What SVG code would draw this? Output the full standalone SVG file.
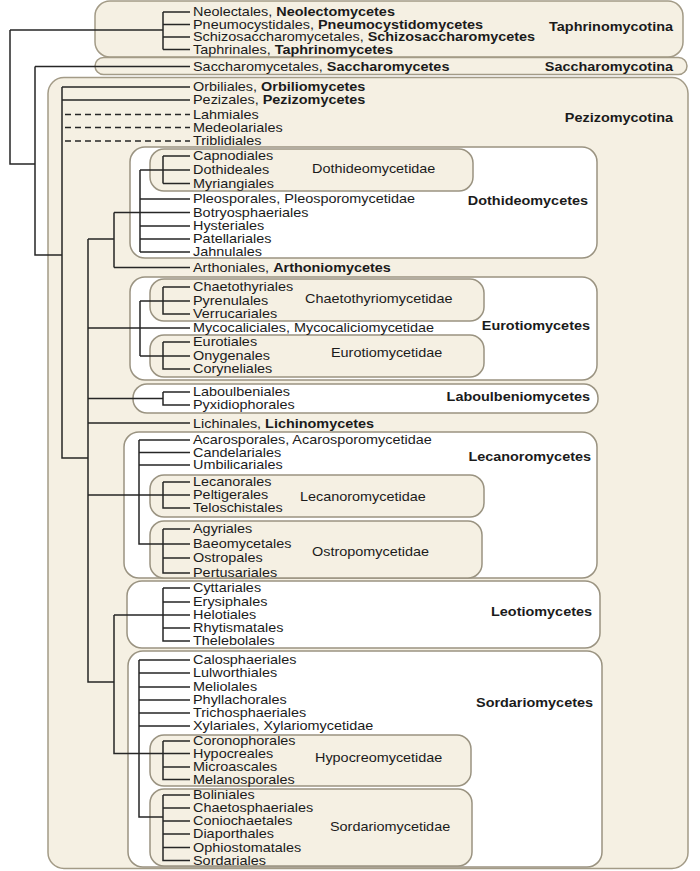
<svg xmlns="http://www.w3.org/2000/svg" width="700" height="871" viewBox="0 0 700 871">
<style>
text{font-family:"Liberation Sans",Arial,sans-serif;font-size:13px;fill:#1b1b1b}
.b{font-weight:bold}
.rl{text-anchor:end;font-weight:bold}
.bg{fill:#f5f0e3;stroke:#a39b87;stroke-width:1.5}
.cl{fill:#ffffff;stroke:#9a9381;stroke-width:1.5}
.sc{fill:#f5f0e3;stroke:#9a9381;stroke-width:1.5}
#connectors path{fill:none;stroke:#262626;stroke-width:1.5}
#connectors path.dash{stroke-dasharray:6 4}
</style>
<rect width="700" height="871" fill="#ffffff"/>

<g id="taphrinomycotina">
<rect class="bg" x="95" y="1" width="588" height="56" rx="15"/>
<text class="rl" x="673" y="31.5" transform="matrix(1.11 0 0 1 -74.03 0)">Taphrinomycotina</text>
<g transform="matrix(1.11 0 0 1 -21.23 0)">
<text x="193" y="16.5">Neolectales, <tspan class="b">Neolectomycetes</tspan></text>
<text x="193" y="29">Pneumocystidales, <tspan class="b">Pneumocystidomycetes</tspan></text>
<text x="193" y="41.5">Schizosaccharomycetales, <tspan class="b">Schizosaccharomycetes</tspan></text>
<text x="193" y="54">Taphrinales, <tspan class="b">Taphrinomycetes</tspan></text>
</g>
</g>

<g id="saccharomycotina">
<rect class="bg" x="95" y="57.5" width="592" height="17" rx="8.5"/>
<text class="rl" x="673" y="71" transform="matrix(1.11 0 0 1 -74.03 0)">Saccharomycotina</text>
<g transform="matrix(1.11 0 0 1 -21.23 0)">
<text x="193" y="71">Saccharomycetales, <tspan class="b">Saccharomycetes</tspan></text>
</g>
</g>

<g id="pezizomycotina">
<rect class="bg" x="48" y="77.5" width="640" height="791" rx="16"/>
<text class="rl" x="673" y="122.5" transform="matrix(1.11 0 0 1 -74.03 0)">Pezizomycotina</text>
<g transform="matrix(1.11 0 0 1 -21.23 0)">
<text x="193" y="91.5">Orbiliales, <tspan class="b">Orbiliomycetes</tspan></text>
<text x="193" y="104.5">Pezizales, <tspan class="b">Pezizomycetes</tspan></text>
<text x="193" y="119">Lahmiales</text>
<text x="193" y="132">Medeolariales</text>
<text x="193" y="145.5">Triblidiales</text>
</g>
</g>

<g id="dothideomycetes">
<rect class="cl" x="130" y="147" width="467" height="111" rx="15"/>
<text class="rl" x="588" y="205.5" transform="matrix(1.11 0 0 1 -64.68 0)">Dothideomycetes</text>
<g id="dothideomycetidae">
<rect class="sc" x="150" y="149" width="323" height="42" rx="14"/>
<text x="312" y="173.5" transform="matrix(1.11 0 0 1 -34.32 0)">Dothideomycetidae</text>
</g>
<g transform="matrix(1.11 0 0 1 -21.23 0)">
<text x="193" y="160.5">Capnodiales</text>
<text x="193" y="174.5">Dothideales</text>
<text x="193" y="188">Myriangiales</text>
<text x="193" y="203.5">Pleosporales, Pleosporomycetidae</text>
<text x="193" y="217">Botryosphaeriales</text>
<text x="193" y="230.5">Hysteriales</text>
<text x="193" y="243.5">Patellariales</text>
<text x="193" y="256.5">Jahnulales</text>
</g>
</g>

<g id="arthoniomycetes">
<text x="193" y="272" transform="matrix(1.11 0 0 1 -21.23 0)">Arthoniales, <tspan class="b">Arthoniomycetes</tspan></text>
</g>

<g id="eurotiomycetes">
<rect class="cl" x="130" y="277" width="467" height="103" rx="15"/>
<text class="rl" x="590" y="330.5" transform="matrix(1.11 0 0 1 -64.9 0)">Eurotiomycetes</text>
<g id="chaetothyriomycetidae">
<rect class="sc" x="150" y="279" width="334" height="42" rx="14"/>
<text x="305" y="303.5" transform="matrix(1.11 0 0 1 -33.55 0)">Chaetothyriomycetidae</text>
</g>
<g id="eurotiomycetidae">
<rect class="sc" x="150" y="335" width="334" height="42" rx="14"/>
<text x="331" y="357.5" transform="matrix(1.11 0 0 1 -36.41 0)">Eurotiomycetidae</text>
</g>
<g transform="matrix(1.11 0 0 1 -21.23 0)">
<text x="193" y="291.5">Chaetothyriales</text>
<text x="193" y="305.5">Pyrenulales</text>
<text x="193" y="318.5">Verrucariales</text>
<text x="193" y="332.5">Mycocaliciales, Mycocaliciomycetidae</text>
<text x="193" y="346.5">Eurotiales</text>
<text x="193" y="360.5">Onygenales</text>
<text x="193" y="373.5">Coryneliales</text>
</g>
</g>

<g id="laboulbeniomycetes">
<rect class="cl" x="133" y="384" width="465" height="29" rx="14"/>
<text class="rl" x="590" y="401.5" transform="matrix(1.11 0 0 1 -64.9 0)">Laboulbeniomycetes</text>
<g transform="matrix(1.11 0 0 1 -21.23 0)">
<text x="193" y="396.5">Laboulbeniales</text>
<text x="193" y="409.5">Pyxidiophorales</text>
</g>
</g>

<g id="lichinomycetes">
<text x="193" y="427.5" transform="matrix(1.11 0 0 1 -21.23 0)">Lichinales, <tspan class="b">Lichinomycetes</tspan></text>
</g>

<g id="lecanoromycetes">
<rect class="cl" x="124" y="432" width="473" height="146" rx="15"/>
<text class="rl" x="591" y="461.5" transform="matrix(1.11 0 0 1 -65.01 0)">Lecanoromycetes</text>
<g id="lecanoromycetidae">
<rect class="sc" x="150" y="475" width="334" height="42" rx="14"/>
<text x="300" y="501.5" transform="matrix(1.11 0 0 1 -33 0)">Lecanoromycetidae</text>
</g>
<g id="ostropomycetidae">
<rect class="sc" x="150" y="521" width="332" height="57" rx="14"/>
<text x="312" y="556.5" transform="matrix(1.11 0 0 1 -34.32 0)">Ostropomycetidae</text>
</g>
<g transform="matrix(1.11 0 0 1 -21.23 0)">
<text x="193" y="444.5">Acarosporales, Acarosporomycetidae</text>
<text x="193" y="457">Candelariales</text>
<text x="193" y="469.5">Umbilicariales</text>
<text x="193" y="486.5">Lecanorales</text>
<text x="193" y="499.5">Peltigerales</text>
<text x="193" y="512.5">Teloschistales</text>
<text x="193" y="533.5">Agyriales</text>
<text x="193" y="548.5">Baeomycetales</text>
<text x="193" y="562.5">Ostropales</text>
<text x="193" y="577">Pertusariales</text>
</g>
</g>

<g id="leotiomycetes">
<rect class="cl" x="127" y="581" width="473" height="67" rx="15"/>
<text class="rl" x="592" y="616.5" transform="matrix(1.11 0 0 1 -65.12 0)">Leotiomycetes</text>
<g transform="matrix(1.11 0 0 1 -21.23 0)">
<text x="193" y="592.5">Cyttariales</text>
<text x="193" y="606.5">Erysiphales</text>
<text x="193" y="619.5">Helotiales</text>
<text x="193" y="632.5">Rhytismatales</text>
<text x="193" y="645.5">Thelebolales</text>
</g>
</g>

<g id="sordariomycetes">
<rect class="cl" x="128" y="651" width="474" height="216" rx="15"/>
<text class="rl" x="593" y="707.5" transform="matrix(1.11 0 0 1 -65.23 0)">Sordariomycetes</text>
<g id="hypocreomycetidae">
<rect class="sc" x="150" y="735" width="321" height="51" rx="14"/>
<text x="315" y="762.5" transform="matrix(1.11 0 0 1 -34.65 0)">Hypocreomycetidae</text>
</g>
<g id="sordariomycetidae">
<rect class="sc" x="150" y="789" width="322" height="77" rx="14"/>
<text x="330" y="831.5" transform="matrix(1.11 0 0 1 -36.3 0)">Sordariomycetidae</text>
</g>
<g transform="matrix(1.11 0 0 1 -21.23 0)">
<text x="193" y="664.5">Calosphaeriales</text>
<text x="193" y="677.5">Lulworthiales</text>
<text x="193" y="691.5">Meliolales</text>
<text x="193" y="704.5">Phyllachorales</text>
<text x="193" y="717.5">Trichosphaeriales</text>
<text x="193" y="730.5">Xylariales, Xylariomycetidae</text>
<text x="193" y="745.5">Coronophorales</text>
<text x="193" y="758">Hypocreales</text>
<text x="193" y="771.5">Microascales</text>
<text x="193" y="784">Melanosporales</text>
<text x="193" y="799.5">Boliniales</text>
<text x="193" y="812.5">Chaetosphaeriales</text>
<text x="193" y="825.5">Coniochaetales</text>
<text x="193" y="838.5">Diaporthales</text>
<text x="193" y="852">Ophiostomatales</text>
<text x="193" y="865">Sordariales</text>
</g>
</g>

<g id="connectors">
<path d="M10,30 V164 H35 M10,30 H163"/>
<path d="M163,12 V49.5 M163,12 H190 M163,24.5 H190 M163,37 H190 M163,49.5 H190"/>
<path d="M35,66.5 V255 H62 M35,66.5 H190"/>
<path d="M62,87 V458 H88 M62,87 H190 M62,100 H190"/>
<path class="dash" d="M65,114.5 H190 M65,127.5 H190 M65,141 H190"/>
<path d="M88,239 V682 H114 M88,239 H114 M88,328 H190 M88,398.5 H163 M88,423 H190 M88,495 H163"/>
<path d="M114,212.5 V267.5 M114,212.5 H190 M114,267.5 H190"/>
<path d="M140,170 V252 M140,170 H163 M140,199 H190 M140,226 H190 M140,239 H190 M140,252 H190"/>
<path d="M163,156 V183.5 M163,156 H190 M163,170 H190 M163,183.5 H190"/>
<path d="M140,301 V356 M140,301 H163 M140,356 H163"/>
<path d="M163,287 V314 H190 M163,287 H190 M163,301 H190"/>
<path d="M163,342 V369 H190 M163,342 H190 M163,356 H190"/>
<path d="M163,392 V405 H190 M163,392 H190"/>
<path d="M139,440 V544 H163 M139,440 H190 M139,452.5 H190 M139,465 H190"/>
<path d="M163,482 V508 H190 M163,482 H190 M163,495 H190"/>
<path d="M163,529 V573 H190 M163,529 H190 M163,544 H190 M163,558 H190"/>
<path d="M114,615 V753.5 H163 M114,615 H163"/>
<path d="M163,588 V641 H190 M163,588 H190 M163,602 H190 M163,615 H190 M163,628 H190"/>
<path d="M139,660 V817 H163 M139,660 H190 M139,673 H190 M139,687 H190 M139,700 H190 M139,713 H190 M139,726 H190"/>
<path d="M163,741 V779.5 H190 M163,741 H190 M163,753.5 H190 M163,767 H190"/>
<path d="M163,795 V860.5 H190 M163,795 H190 M163,808 H190 M163,821 H190 M163,834 H190 M163,847.5 H190"/>
</g>
</svg>
